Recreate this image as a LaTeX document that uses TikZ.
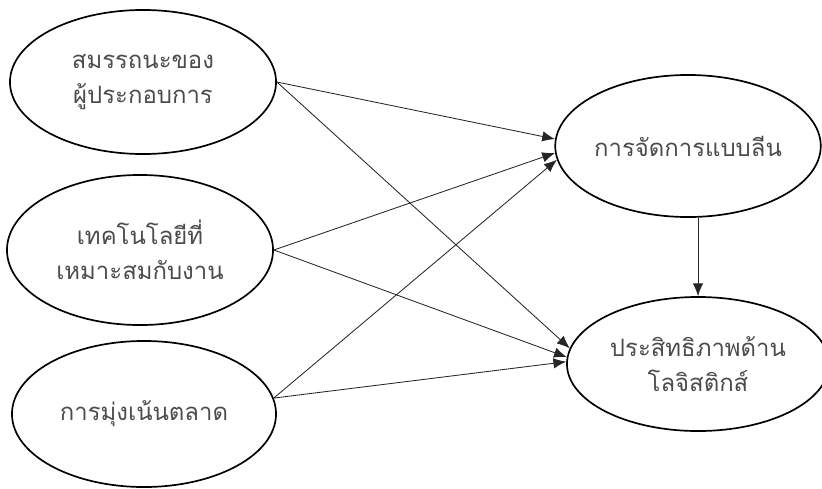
\documentclass[tikz,border=0pt]{standalone}
\usepackage{fontspec}
\newfontfamily\thaifont[Script=Thai]{Loma}
\usetikzlibrary{arrows.meta,shapes.geometric}

\begin{document}
\begin{tikzpicture}[
    x=0.025cm,y=-0.025cm,
    font=\thaifont\fontsize{17}{25}\selectfont,
    construct/.style={draw,ellipse,line width=1.2pt,inner sep=0pt,
      minimum width=6.6cm,minimum height=3.6cm,align=center,text=black!70},
    path/.style={draw=black!85,line width=0.6pt,
      -{Latex[length=3.2mm,width=2.6mm]}},
  ]
    \useasboundingbox (0,0) rectangle (822,488);
    \node[construct,minimum width=6.65cm] (comp) at (143,82) {สมรรถนะของ\\ผู้ประกอบการ};
    \node[construct,minimum width=6.65cm,minimum height=3.75cm] (tech) at (140,250) {เทคโนโลยีที่\\เหมาะสมกับงาน};
    \node[construct,minimum height=3.65cm] (mkt) at (144,414) {การมุ่งเน้นตลาด};
    \node[construct,minimum width=6.58cm,minimum height=3.55cm] (lean) at (688,146) {การจัดการแบบลีน};
    \node[construct,minimum width=6.55cm,minimum height=3.35cm] (perf) at (698,364) {ประสิทธิภาพด้าน\\โลจิสติกส์};

    \draw[path] (comp.east) -- (lean.177);
    \draw[path] (tech.east) -- (lean.183);
    \draw[path] (mkt.7) -- (lean.186);
    \draw[path] (comp.east) -- (perf.173);
    \draw[path] (tech.east) -- (perf.177);
    \draw[path] (mkt.7) -- (perf.179);
    \draw[path] (perf.north |- lean.south) -- (perf.north);
  \end{tikzpicture}
\end{document}
